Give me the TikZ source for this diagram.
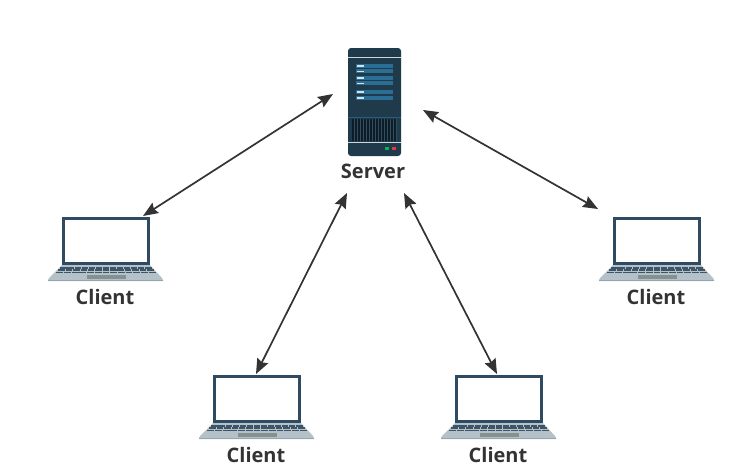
\documentclass[tikz,border=0pt]{standalone}
\usepackage{fontspec}
\setmainfont{Open Sans}
\usetikzlibrary{arrows.meta}
\definecolor{navy}{HTML}{2F4A63}
\definecolor{deck}{HTML}{B4C1C8}
\definecolor{deckdark}{HTML}{96A4AC}
\definecolor{keyc}{HTML}{3E5567}
\definecolor{padc}{HTML}{85918F}
\definecolor{srv}{HTML}{1F3A4A}
\definecolor{srvline}{HTML}{C9D6DC}
\definecolor{panel}{HTML}{2A6E96}
\definecolor{vent}{HTML}{0C1C28}
\definecolor{txt}{HTML}{333333}
\tikzset{
  labeltext/.style={font=\fontsize{20}{22}\selectfont\bfseries, text=txt, inner sep=0pt},
  link/.style={draw=txt, line width=1.7pt, {Stealth[length=15pt,width=12pt,inset=2pt]}-{Stealth[length=15pt,width=12pt,inset=2pt]}},
  laptop/.pic={
    \fill[navy] (0,0) rectangle (88,48.5);
    \fill[white] (2.8,3.4) rectangle (85.2,44.6);
    \fill[deck] (0,48) -- (88,48) -- (100,61) -- (101,63) -- (101,64) -- (-14,64) -- (-14,63) -- (-13,61) -- cycle;
    \fill[deckdark] (-14,62.7) rectangle (101,64);
    \foreach \r/\yy/\ss in {0/50.1/-2,1/52.4/-4,2/54.7/-6}{
      \foreach \k in {0,...,12}{
        \fill[keyc] ({\ss+\k*(88-2*\ss)/13+0.4},\yy) rectangle ++({(88-2*\ss)/13-0.9},1.5);
      }
    }
    \fill[padc] (25,57.5) rectangle (64,61.5);
  }
}
\begin{document}
\begin{tikzpicture}[x=1pt,y=-1pt]
\useasboundingbox (0,0) rectangle (746,472);
\fill[white] (0,0) rectangle (746,472);

% server
\fill[srv, rounded corners=3pt] (348,48) rectangle (401,156);
\fill[srvline] (348,56.5) rectangle (401,57.5);
\fill[srvline] (348,142) rectangle (401,143.2);
\fill[panel] (356,64) rectangle (393,68);
\fill[panel] (356,69.3) rectangle (393,73.3);
\fill[panel] (356,76) rectangle (393,80);
\fill[panel] (356,81.3) rectangle (393,85.3);
\fill[panel] (356,90) rectangle (393,94);
\fill[panel] (356,96) rectangle (393,100);
\foreach \yy in {66,71.3,78,83.3,92,98}{
  \fill[white!80!panel] (357,\yy-0.6) rectangle (363.5,\yy+0.6);
}
\fill[panel!70!srv] (348,117) rectangle (401,117.8);
\fill[vent] (352,118.5) rectangle (397,141);
\foreach \k in {0,...,14}{
  \fill[srv!90!white] ({353.6+\k*3},118.5) rectangle ++(1.2,22.5);
}
\fill[green!45!teal] (385,147) rectangle (389,150);
\fill[red!60!purple!80!white] (392,147) rectangle (396,150);

% laptops
\pic at (62,217) {laptop};
\pic at (613,217) {laptop};
\pic at (213,375) {laptop};
\pic at (455,375) {laptop};

% labels
\node[labeltext] (server) at (373,171) {Server};
\node[labeltext] (c1) at (105,297) {Client};
\node[labeltext] (c2) at (656,297) {Client};
\node[labeltext] (c3) at (256,455) {Client};
\node[labeltext] (c4) at (498,455) {Client};

% connector ends
\coordinate (sa) at (333,94);
\coordinate (sb) at (347,193);
\coordinate (sc) at (404,193);
\coordinate (sd) at (423,110);
\coordinate (la) at (143,216);
\coordinate (lb) at (256,374);
\coordinate (lc) at (497,374);
\coordinate (ld) at (598,209);
\draw[link] (sa) -- (la);
\draw[link] (sb) -- (lb);
\draw[link] (sc) -- (lc);
\draw[link] (sd) -- (ld);
\end{tikzpicture}
\end{document}
